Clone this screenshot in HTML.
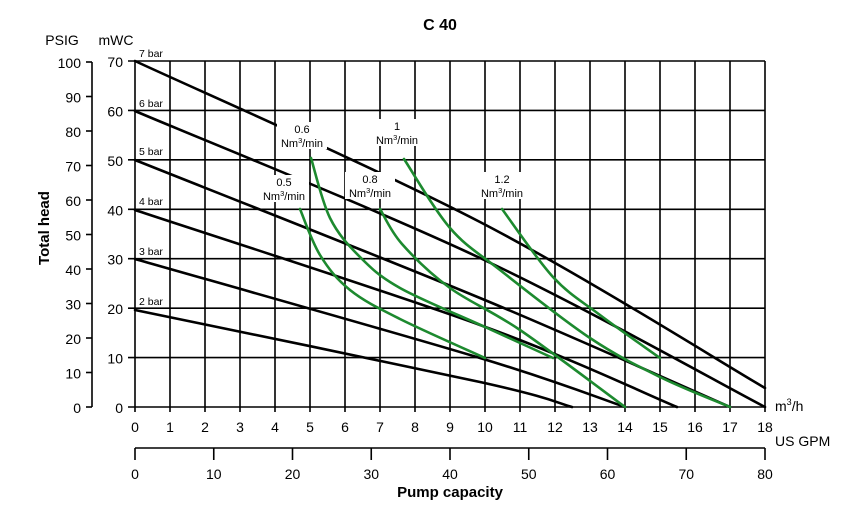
<!DOCTYPE html>
<html><head><meta charset="utf-8">
<style>
html,body{margin:0;padding:0;background:#fff;}
svg{display:block;font-family:"Liberation Sans",sans-serif;}
</style></head>
<body>
<svg id="s" width="859" height="512" viewBox="0 0 859 512" xmlns="http://www.w3.org/2000/svg">
<rect width="859" height="512" fill="#fff"/>
<g id="grid" stroke="#000" stroke-width="1.6"></g>
<g id="curves" fill="none" stroke-linecap="round" stroke-linejoin="round"></g>
<g id="lbl" font-size="11" fill="#000"></g>
<g id="txt" fill="#000">
<text x="440" y="30" font-size="16" font-weight="bold" text-anchor="middle">C 40</text>
<text x="62" y="45" font-size="14" text-anchor="middle">PSIG</text>
<text x="116" y="45" font-size="14" text-anchor="middle">mWC</text>
<text transform="translate(49,228) rotate(-90)" font-size="15" font-weight="bold" text-anchor="middle">Total head</text>
<text x="775" y="411" font-size="14">m<tspan font-size="9" dy="-6">3</tspan><tspan dy="6">/h</tspan></text>
<text x="775" y="446" font-size="14">US GPM</text>
<text x="450" y="497" font-size="15" font-weight="bold" text-anchor="middle">Pump capacity</text>
</g>
</svg>
<script>
var NS="http://www.w3.org/2000/svg";
function el(p,t,a,txt){var e=document.createElementNS(NS,t);for(var k in a)e.setAttribute(k,a[k]);if(txt!==undefined)e.textContent=txt;document.getElementById(p).appendChild(e);return e;}
var X0=135,SX=35,Y0=407,SY=4.943;
for(var i=0;i<=18;i++){var x=X0+i*SX;el("grid","line",{x1:x,y1:61,x2:x,y2:412});
 el("txt","text",{x:x,y:432,"font-size":14,"text-anchor":"middle"},String(i));}
for(var j=0;j<=7;j++){var y=Y0-j*10*SY;el("grid","line",{x1:128,y1:y,x2:765,y2:y});
 el("txt","text",{x:123,y:y+6,"font-size":14,"text-anchor":"end"},String(j*10));}
el("grid","line",{x1:92,y1:62,x2:92,y2:407});
for(var p=0;p<=10;p++){var y=407-p*34.5;el("grid","line",{x1:86,y1:y,x2:92,y2:y});
 el("txt","text",{x:81,y:y+6,"font-size":14,"text-anchor":"end"},String(p*10));}
el("grid","line",{x1:135,y1:448,x2:765,y2:448});
for(var g=0;g<=8;g++){var x=135+g*78.75;el("grid","line",{x1:x,y1:448,x2:x,y2:460});
 el("txt","text",{x:x,y:479,"font-size":14,"text-anchor":"middle"},String(g*10));}
function cr(pts){var d="M"+pts[0][0]+","+pts[0][1];
 for(var i=0;i<pts.length-1;i++){var p0=pts[i-1]||pts[i],p1=pts[i],p2=pts[i+1],p3=pts[i+2]||p2;
 d+=" C"+(p1[0]+(p2[0]-p0[0])/6).toFixed(1)+","+(p1[1]+(p2[1]-p0[1])/6).toFixed(1)+" "+(p2[0]-(p3[0]-p1[0])/6).toFixed(1)+","+(p2[1]-(p3[1]-p1[1])/6).toFixed(1)+" "+p2[0]+","+p2[1];}
 return d;}
var black=[
[[135,61],[480,222],[765,388]],
[[135,111],[480,258],[765,407]],
[[135,160],[480,298],[730,407]],
[[135,210],[480,325],[677,407]],
[[135,259],[480,358],[625,407]],
[[135,310],[480,382],[572,407]]];
black.forEach(function(p){el("curves","path",{d:cr(p),stroke:"#000","stroke-width":2.6});});
var labs=[[302,"0.6",133],[397,"1",130],[284,"0.5",186],[370,"0.8",183],[502,"1.2",183]];
labs.forEach(function(l){el("curves","rect",{x:l[0]-25,y:l[2]-11,width:50,height:27,fill:"#fff",stroke:"none"});});
var green=[
[[300,209],[320,255],[350,290],[400,319],[485,358]],
[[311,158],[330,218],[360,257],[400,288],[485,327],[553,358]],
[[380,209],[402,244],[450,288],[520,330],[625,407]],
[[404,159],[450,228],[500,270],[590,338],[660,377],[730,407]],
[[502,209],[553,277],[600,315],[660,358]]];
green.forEach(function(p){el("curves","path",{d:cr(p),stroke:"#1d8a2f","stroke-width":2.6});});
labs.forEach(function(l){el("lbl","text",{x:l[0],y:l[2],"text-anchor":"middle"},l[1]);
 var t=el("lbl","text",{x:l[0],y:l[2]+14,"text-anchor":"middle"},"Nm");
 var a=document.createElementNS(NS,"tspan");a.setAttribute("font-size","7.5");a.setAttribute("dy","-4");a.textContent="3";t.appendChild(a);
 var b=document.createElementNS(NS,"tspan");b.setAttribute("dy","4");b.textContent="/min";t.appendChild(b);});
var bars=[[7,57],[6,107],[5,155],[4,205],[3,255],[2,305]];
bars.forEach(function(b){el("lbl","text",{x:139,y:b[1],"font-size":10.5},b[0]+" bar");});
</script>
</body></html>
